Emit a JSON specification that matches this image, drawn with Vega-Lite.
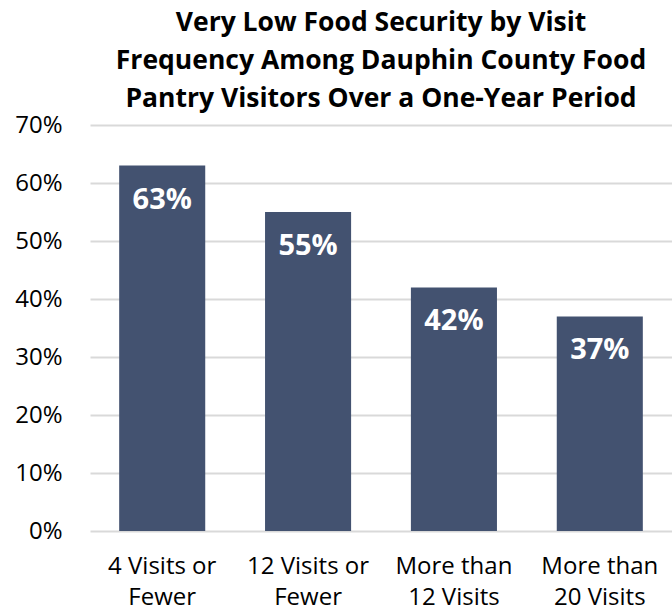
{
  "$schema": "https://vega.github.io/schema/vega-lite/v6.json",
  "width": 582,
  "height": 406,
  "autosize": {"type": "none"},
  "padding": {"left": 90, "top": 125, "right": 0, "bottom": 82},
  "background": "white",
  "title": {
    "text": ["Very Low Food Security by Visit", "Frequency Among Dauphin County Food", "Pantry Visitors Over a One-Year Period"],
    "font": "Open Sans",
    "fontSize": 26.5,
    "fontWeight": "bold",
    "lineHeight": 38,
    "color": "#000000",
    "anchor": "middle",
    "offset": 1
  },
  "data": {
    "values": [
      {"category": "4 Visits or|Fewer", "value": 0.63},
      {"category": "12 Visits or|Fewer", "value": 0.55},
      {"category": "More than|12 Visits", "value": 0.42},
      {"category": "More than|20 Visits", "value": 0.37}
    ]
  },
  "config": {
    "view": {"stroke": null},
    "font": "Open Sans"
  },
  "encoding": {
    "x": {
      "field": "category",
      "type": "nominal",
      "sort": null,
      "scale": {"paddingInner": 0.41, "paddingOuter": 0.2},
      "axis": {
        "title": null,
        "labelAngle": 0,
        "labelExpr": "split(datum.label, '|')",
        "labelFont": "Open Sans",
        "labelFontSize": 24,
        "labelColor": "#000000",
        "labelLineHeight": 31,
        "labelPadding": 23,
        "domain": false,
        "ticks": false
      }
    },
    "y": {
      "field": "value",
      "type": "quantitative",
      "scale": {"domain": [0, 0.7]},
      "axis": {
        "title": null,
        "format": ".0%",
        "values": [0, 0.1, 0.2, 0.3, 0.4, 0.5, 0.6, 0.7],
        "labelFont": "Open Sans",
        "labelFontSize": 24,
        "labelColor": "#000000",
        "labelPadding": 28,
        "domain": false,
        "ticks": false,
        "grid": true,
        "gridColor": "#d9d9d9",
        "gridWidth": 2
      }
    }
  },
  "layer": [
    {
      "mark": {"type": "bar", "color": "#435270"}
    },
    {
      "mark": {"type": "text", "color": "white", "fontWeight": "bold", "fontSize": 29, "font": "Open Sans", "baseline": "middle", "dy": 34},
      "encoding": {
        "text": {"field": "value", "type": "quantitative", "format": ".0%"}
      }
    }
  ]
}
